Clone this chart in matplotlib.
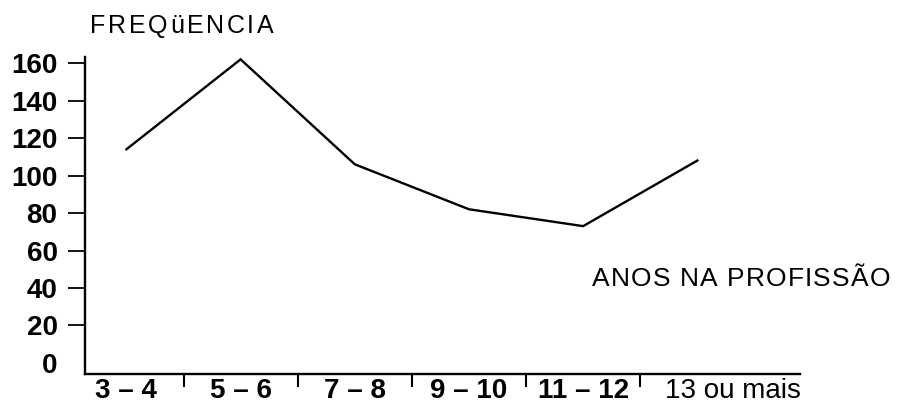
import matplotlib.pyplot as plt
from matplotlib.font_manager import FontProperties
from matplotlib.textpath import TextToPath
from matplotlib.transforms import offset_copy, ScaledTranslation

plt.rcParams["font.family"] = ["Liberation Sans", "DejaVu Sans"]

classes = ["3 – 4", "5 – 6", "7 – 8", "9 – 10", "11 – 12", "13 ou mais"]
freq = [114, 162, 106, 82, 73, 108]
yticks = [0, 20, 40, 60, 80, 100, 120, 140, 160]


def spaced_text(fig, x, y, s, size, spacing):
    # letter-spaced text, one glyph at a time (spacing in points)
    prop = FontProperties(family="Liberation Sans", size=size)
    ttp = TextToPath()
    dx = 0.
    for ch in s:
        tr = offset_copy(fig.transFigure, fig=fig, x=dx, y=0, units="points")
        fig.text(x, y, ch, fontproperties=prop, transform=tr,
                 ha="left", va="baseline")
        if ch == " ":
            w = 0.278 * size
        else:
            w = ttp.get_text_width_height_descent(ch, prop, ismath=False)[0]
        dx += w + spacing


fig = plt.figure(figsize=(8.98, 4.05), dpi=100)
ax = fig.add_axes([0.095, 0.077, 0.796, 0.782])

x = list(range(len(classes)))
ax.plot(x, freq, color="black", lw=1.7, solid_joinstyle="miter")

ax.set_xlim(-0.36, 5.9)
ax.set_ylim(-5.8, 163.2)

for side in ("top", "right"):
    ax.spines[side].set_visible(False)
for side in ("left", "bottom"):
    ax.spines[side].set_linewidth(1.7)

# y axis: outward ticks, no tick mark at 0
ax.set_yticks(yticks)
ax.set_yticklabels([str(v) for v in yticks], fontsize=20, fontweight="bold")
ax.tick_params(axis="y", direction="out", length=12, width=1.3, pad=8)
ax.yaxis.get_major_ticks()[0].tick1line.set_visible(False)

# x axis: labels at classes, small separators between them
ax.set_xticks(x)
ax.set_xticklabels(classes, fontsize=20)
for lab, name in zip(ax.get_xticklabels(), classes):
    lab.set_fontweight("normal" if "mais" in name else "bold")
ax.tick_params(axis="x", which="major", length=0, pad=3)
ax.set_xticks([i + 0.5 for i in x[:-1]], minor=True)
ax.tick_params(axis="x", which="minor", direction="out", length=9, width=1.5)

# last class label sits to the right of its slot
last = ax.xaxis.get_major_ticks()[-1].label1
last.set_transform(last.get_transform() +
                   ScaledTranslation(0.36, 0, fig.dpi_scale_trans))

spaced_text(fig, 90 / 898, 1 - 33 / 405, "FREQüENCIA", 18, 1.9)
spaced_text(fig, 592 / 898, 1 - 286 / 405, "ANOS NA PROFISSÃO", 19, 0.8)

fig.savefig("out.png", dpi=100)
